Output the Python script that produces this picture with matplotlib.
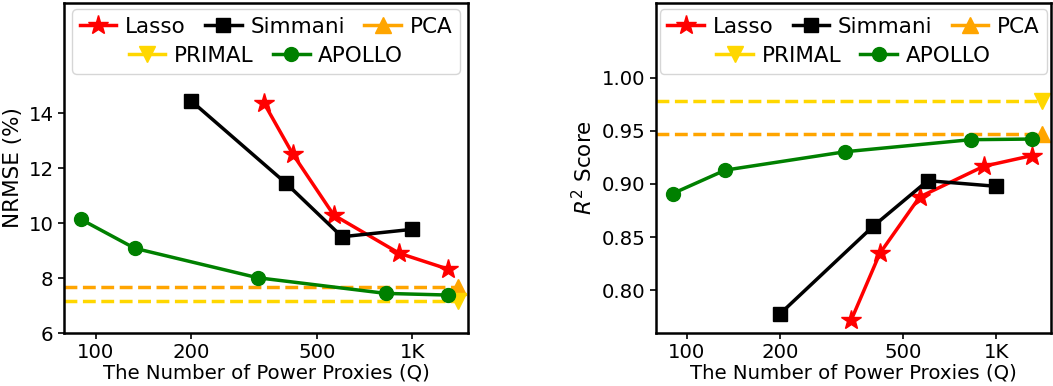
import matplotlib.pyplot as plt
from matplotlib.ticker import FixedLocator, NullLocator
from matplotlib.offsetbox import HPacker, VPacker

# proxy counts (Q) for each method
q_lasso = [340, 420, 565, 910, 1300]
q_simmani = [200, 400, 600, 1000]
q_apollo = [90, 133, 325, 825, 1300]
q_ref = 1400  # where the fixed-size baselines are marked

# NRMSE (%)
nrmse_lasso = [14.37, 12.5, 10.29, 8.9, 8.32]
nrmse_simmani = [14.45, 11.44, 9.5, 9.77]
nrmse_apollo = [10.13, 9.08, 8.01, 7.44, 7.38]
nrmse_pca = 7.66
nrmse_primal = 7.16

# R^2 score
r2_lasso = [0.7725, 0.8347, 0.8878, 0.9166, 0.9266]
r2_simmani = [0.778, 0.8603, 0.9031, 0.8978]
r2_apollo = [0.891, 0.913, 0.9303, 0.9416, 0.9422]
r2_pca = 0.9465
r2_primal = 0.9775

xticks = [100, 200, 500, 1000]
xticklabels = ["100", "200", "500", "1K"]
XLIM = (79.5, 1500)

plt.rcParams.update({
    "font.family": "DejaVu Sans",
    "axes.linewidth": 1.8,
})

LW = 2.5
LEG_FS = 15.5


def centered_legend(ax):
    # 3 + 2 layout with the short second row centred under the first
    leg = ax.legend(ncol=3, loc="upper center", fontsize=LEG_FS, handlelength=1.7,
                    columnspacing=0.65, handletextpad=0.4, borderpad=0.35,
                    labelspacing=0.3, borderaxespad=0.3)
    cols = leg._legend_handle_box.get_children()
    by_label = {}
    for col in cols:
        for entry in col.get_children():
            txt = entry.get_children()[1].get_children()[0].get_text()
            by_label[txt] = entry
    sep = 0.65 * LEG_FS * fig.dpi / 72
    row1 = HPacker(pad=0, sep=sep, align="baseline",
                   children=[by_label[k] for k in ("Lasso", "Simmani", "PCA")])
    row2 = HPacker(pad=0, sep=sep, align="baseline",
                   children=[by_label[k] for k in ("PRIMAL", "APOLLO")])
    rows = VPacker(pad=0, sep=0.3 * LEG_FS * fig.dpi / 72, align="center",
                   children=[row1, row2])
    leg._legend_handle_box = rows
    leg._legend_box._children = [leg._legend_title_box, rows]
    leg._legend_box.set_figure(fig)
    return leg


def draw(ax, lasso, simmani, apollo, pca, primal):
    ax.plot(q_lasso, lasso, color="red", marker="*", markersize=15, lw=LW, label="Lasso")
    ax.plot(q_simmani, simmani, color="black", marker="s", markersize=10, lw=LW, label="Simmani")
    ax.plot([XLIM[0], q_ref], [pca, pca], color="orange", ls="--", lw=LW)
    ax.plot([q_ref], [pca], color="orange", marker="^", markersize=12, lw=LW, label="PCA")
    ax.plot([XLIM[0], q_ref], [primal, primal], color="gold", ls="--", lw=LW)
    ax.plot([q_ref], [primal], color="gold", marker="v", markersize=12, lw=LW, label="PRIMAL")
    ax.plot(q_apollo, apollo, color="green", marker="o", markersize=10, lw=LW, label="APOLLO")

    ax.set_xscale("log")
    ax.set_xlim(*XLIM)
    ax.xaxis.set_major_locator(FixedLocator(xticks))
    ax.xaxis.set_minor_locator(NullLocator())
    ax.set_xticklabels(xticklabels)
    ax.tick_params(labelsize=14.2, width=1.2, length=4)
    ax.set_xlabel("The Number of Power Proxies (Q)", fontsize=14.2, labelpad=1)
    centered_legend(ax)


fig = plt.figure(figsize=(10.53, 3.86), dpi=100)
ax1 = fig.add_axes([0.0608, 0.1373, 0.3836, 0.8549])
ax2 = fig.add_axes([0.623, 0.1373, 0.375, 0.8549])

draw(ax1, nrmse_lasso, nrmse_simmani, nrmse_apollo, nrmse_pca, nrmse_primal)
ax1.set_ylim(6, 18)
ax1.set_yticks([6, 8, 10, 12, 14])
ax1.set_ylabel("NRMSE (%)", fontsize=15.5)

draw(ax2, r2_lasso, r2_simmani, r2_apollo, r2_pca, r2_primal)
ax2.set_ylim(0.76, 1.07)
ax2.set_yticks([0.80, 0.85, 0.90, 0.95, 1.00])
ax2.set_yticklabels(["0.80", "0.85", "0.90", "0.95", "1.00"])
ax2.set_ylabel("$R^2$ Score", fontsize=15.5)

fig.savefig("out.png", dpi=100)
plt.close(fig)
